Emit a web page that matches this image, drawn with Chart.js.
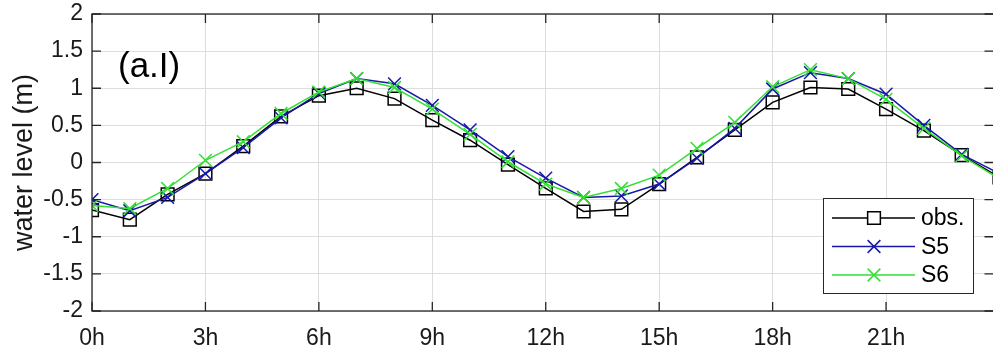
<!DOCTYPE html>
<html>
<head>
<meta charset="utf-8">
<script src="https://cdn.jsdelivr.net/npm/chart.js@4.4.0/dist/chart.umd.min.js"></script>
<style>
  html, body { margin: 0; padding: 0; background: #fff; overflow: hidden; }
  #wrap { position: relative; width: 1010px; height: 353px; }
</style>
</head>
<body>
<div id="wrap"><canvas id="c"></canvas></div>
<script>
// Hourly water level over one day (m)
const hours = [0, 1, 2, 3, 4, 5, 6, 7, 8, 9, 10, 11, 12, 13, 14, 15, 16, 17, 18, 19, 20, 21, 22, 23, 24];
const obs = [-0.64, -0.77, -0.43, -0.15, 0.22, 0.62, 0.90, 1.00, 0.86, 0.57, 0.30, -0.03, -0.35, -0.66, -0.63, -0.29, 0.07, 0.44, 0.81, 1.01, 0.99, 0.72, 0.43, 0.10, -0.20];
const s5  = [-0.50, -0.65, -0.47, -0.15, 0.20, 0.60, 0.93, 1.13, 1.06, 0.77, 0.44, 0.08, -0.21, -0.47, -0.45, -0.29, 0.06, 0.46, 0.99, 1.21, 1.13, 0.92, 0.50, 0.11, -0.15];
const s6  = [-0.58, -0.62, -0.35, 0.03, 0.28, 0.66, 0.95, 1.13, 1.01, 0.72, 0.38, 0.01, -0.29, -0.47, -0.35, -0.17, 0.19, 0.54, 1.02, 1.25, 1.13, 0.85, 0.46, 0.09, -0.22];

const xTicks = [0, 3, 6, 9, 12, 15, 18, 21, 24];
const yTicks = [-2, -1.5, -1, -0.5, 0, 0.5, 1, 1.5, 2];
const seriesNames = ['obs.', 'S5', 'S6'];
const panelTag = '(a.I)';

const FONT = '"Liberation Sans", Arial, Helvetica, sans-serif';
const AXIS_COLOR = '#262626';

const toPoints = arr => hours.map((h, i) => ({ x: h, y: arr[i] }));

// Axes box with inward tick marks, the panel tag and the legend
const framePlugin = {
  id: 'frame',
  afterDraw(chart) {
    const { ctx, chartArea: a, scales } = chart;
    const tl = 9;
    ctx.save();
    ctx.strokeStyle = AXIS_COLOR;
    ctx.lineWidth = 1.3;
    ctx.beginPath();
    scales.x.ticks.forEach(t => {
      const px = scales.x.getPixelForValue(t.value);
      ctx.moveTo(px, a.bottom); ctx.lineTo(px, a.bottom - tl);
      ctx.moveTo(px, a.top); ctx.lineTo(px, a.top + tl);
    });
    scales.y.ticks.forEach(t => {
      const py = scales.y.getPixelForValue(t.value);
      ctx.moveTo(a.left, py); ctx.lineTo(a.left + tl, py);
      ctx.moveTo(a.right, py); ctx.lineTo(a.right - tl - 6, py);
    });
    ctx.stroke();
    ctx.strokeRect(a.left, a.top, a.right - a.left, a.bottom - a.top);

    // panel tag
    ctx.fillStyle = '#000';
    ctx.font = '35px ' + FONT;
    ctx.textAlign = 'left';
    ctx.textBaseline = 'alphabetic';
    ctx.fillText(panelTag, a.left + 26, a.top + 63);

    // legend
    const lx = 823, ly = 198, lw = 150, lh = 95;
    ctx.fillStyle = '#fff';
    ctx.fillRect(lx, ly, lw, lh);
    ctx.strokeStyle = AXIS_COLOR;
    ctx.lineWidth = 1;
    ctx.strokeRect(lx + 0.5, ly + 0.5, lw, lh);
    ctx.font = '23px ' + FONT;
    ctx.textBaseline = 'middle';
    chart.data.datasets.forEach((ds, i) => {
      const y = ly + 20 + i * 28.5;
      ctx.strokeStyle = ds.borderColor;
      ctx.lineWidth = ds.borderWidth;
      ctx.beginPath();
      ctx.moveTo(lx + 9, y); ctx.lineTo(lx + 92, y);
      ctx.stroke();
      Chart.helpers.drawPoint(ctx, {
        pointStyle: ds.pointStyle, radius: ds.pointRadius,
        borderWidth: ds.pointBorderWidth, rotation: 0
      }, lx + 51, y);
      ctx.fillStyle = '#000';
      ctx.fillText(ds.label, lx + 98, y + 1);
    });
    ctx.restore();
  }
};

const makeSet = (label, data, color, style, order) => ({
  label, data: toPoints(data), order,
  borderColor: color, backgroundColor: color,
  borderWidth: 1.5,
  pointStyle: style, pointRadius: 9,
  pointBorderColor: color, pointBackgroundColor: 'rgba(0,0,0,0)',
  pointBorderWidth: 1.5, pointHoverRadius: 9,
  tension: 0, fill: false
});

new Chart(document.getElementById('c'), {
  type: 'line',
  data: {
    datasets: [
      makeSet(seriesNames[0], obs, '#000000', 'rect', 3),
      makeSet(seriesNames[1], s5, '#1818a8', 'crossRot', 2),
      makeSet(seriesNames[2], s6, '#33e033', 'crossRot', 1)
    ]
  },
  options: {
    responsive: true,
    maintainAspectRatio: false,
    animation: false,
    devicePixelRatio: 1,
    layout: { padding: { top: 14, right: 9.7, left: 0, bottom: 0 } },
    plugins: { legend: { display: false }, tooltip: { enabled: false } },
    scales: {
      x: {
        type: 'linear', min: 0, max: 24,
        afterBuildTicks: s => { s.ticks = xTicks.map(v => ({ value: v })); },
        afterFit: s => { s.height = 42; s.paddingLeft = 0; s.paddingRight = 0; },
        ticks: {
          callback: v => (v === 24 ? '' : v + 'h'),
          maxRotation: 0, autoSkip: false,
          color: '#1a1a1a', padding: 14,
          font: { family: FONT, size: 23 }
        },
        grid: { color: '#dedede', lineWidth: 1, drawTicks: false },
        border: { display: false }
      },
      y: {
        type: 'linear', min: -2, max: 2,
        afterBuildTicks: s => { s.ticks = yTicks.map(v => ({ value: v })); },
        afterFit: s => { s.width = 92; s.paddingTop = 0; s.paddingBottom = 0; },
        ticks: {
          callback: v => String(v),
          color: '#1a1a1a', padding: 9,
          font: { family: FONT, size: 23 }
        },
        grid: { color: '#dedede', lineWidth: 1, drawTicks: false },
        border: { display: false },
        title: {
          display: true, text: 'water level (m)', color: '#1a1a1a',
          font: { family: FONT, size: 27 }, padding: { top: 8, bottom: 0 }
        }
      }
    }
  },
  plugins: [framePlugin]
});
</script>
</body>
</html>
